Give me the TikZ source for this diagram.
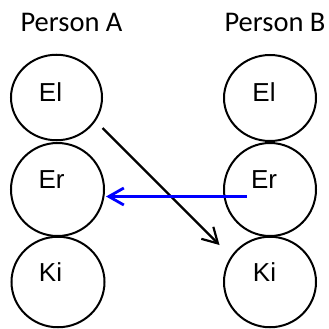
\documentclass[tikz,border=0pt]{standalone}
\usepackage{fontspec}
\usetikzlibrary{shapes.geometric,arrows.meta}
\newfontfamily\calfont{Carlito}
\newfontfamily\arfont{Liberation Sans}
\begin{document}
\begin{tikzpicture}[x=1pt,y=-1pt,
  bubble/.style={draw=black,line width=2pt,ellipse,inner sep=0pt},
  head/.style={inner sep=0pt,anchor=base,font=\calfont\fontsize{28.5}{30}\selectfont},
  lab/.style={inner sep=0pt,anchor=base,font=\arfont\fontsize{26}{28}\selectfont},
  conn/.style={line width=2.2pt,-{Straight Barb[length=15pt,width=17pt]}}]
\useasboundingbox (0,0) rectangle (329,329);
% headers
\node[head] (pa) at (71.5,31.5) {Person A};
\node[head] (pb) at (275,31.5) {Person B};
% person A
\node[bubble,minimum width=91pt,minimum height=85.5pt] (elA) at (56.5,97.5) {};
\node[bubble,minimum width=93pt,minimum height=93pt] (erA) at (57.5,189.5) {};
\node[bubble,minimum width=93pt,minimum height=90.5pt] (kiA) at (58,282) {};
% person B
\node[bubble,minimum width=92pt,minimum height=86pt] (elB) at (270,98) {};
\node[bubble,minimum width=92pt,minimum height=93pt] (erB) at (270,189.5) {};
\node[bubble,minimum width=92pt,minimum height=90.5pt] (kiB) at (270,282) {};
% labels
\node[lab] (elAt) at (50.5,101) {El};
\node[lab] (erAt) at (51.5,188) {Er};
\node[lab] (kiAt) at (50.5,281) {Ki};
\node[lab] (elBt) at (264,101) {El};
\node[lab] (erBt) at (264,188) {Er};
\node[lab] (kiBt) at (264.5,281) {Ki};
% connector end points
\coordinate (s1) at (102.5,128);
\coordinate (e1) at (219.5,245);
\coordinate (s2) at (247,196.5);
\coordinate (e2) at (106,196.5);
\draw[conn,black] (s1) -- (e1);
\draw[conn,blue,line width=2.8pt] (s2) -- (e2);
\end{tikzpicture}
\end{document}
